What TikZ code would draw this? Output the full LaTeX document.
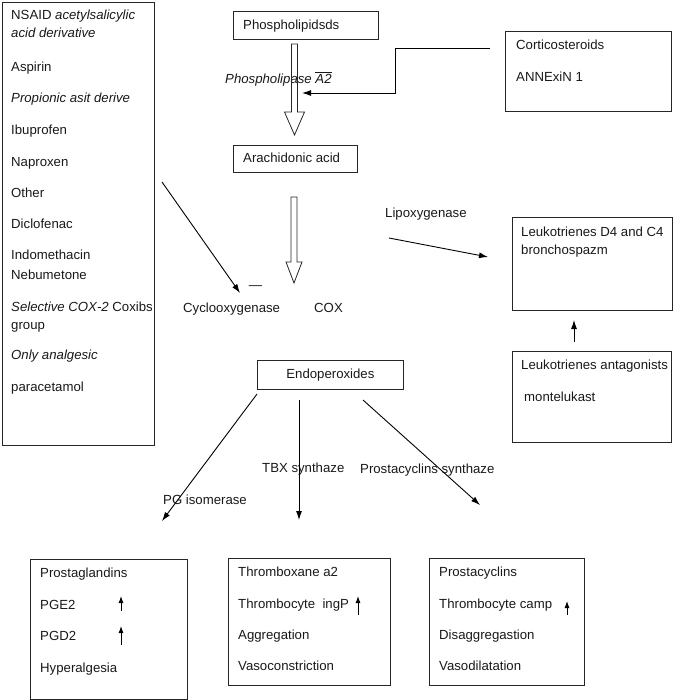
\documentclass[tikz,border=0pt]{standalone}
\usepackage{fontspec}
\setmainfont{Liberation Sans}
\usetikzlibrary{arrows.meta}
\begin{document}
\begin{tikzpicture}[x=1pt,y=-1pt,
  box/.style={draw=black!85, line width=0.8pt, anchor=north west, inner sep=0pt},
  txt/.style={anchor=mid west, inner sep=0pt, yshift=-1.5pt, text=black!90, font=\fontsize{13.2}{15}\selectfont},
  arr/.style={draw=black, line width=0.9pt, -{Latex[length=9pt,width=6pt]}},
  uparr/.style={draw=black, line width=0.9pt, -{Latex[length=7pt,width=5pt]}},
  hollow/.style={draw=black!85, line width=0.8pt}]
\useasboundingbox (0,0) rectangle (673,700);

% ---------- boxes ----------
\node[box, minimum width=152pt, minimum height=443pt] (nsaid) at (2,2) {};
\node[box, minimum width=145pt, minimum height=28pt] (phos) at (233,11) {};
\node[box, minimum width=166pt, minimum height=80pt] (cort) at (505,31) {};
\node[box, minimum width=124pt, minimum height=27pt] (arach) at (233,145) {};
\node[box, minimum width=160pt, minimum height=93pt] (leuk) at (512,217) {};
\node[box, minimum width=159pt, minimum height=91pt] (anta) at (512,351) {};
\node[box, minimum width=146pt, minimum height=29pt, text=black!90, font=\fontsize{13.2}{15}\selectfont] (endo) at (257,360) {Endoperoxides};
\node[box, minimum width=157pt, minimum height=140pt] (pg) at (30,559) {};
\node[box, minimum width=162pt, minimum height=127pt] (tx) at (228,558) {};
\node[box, minimum width=155pt, minimum height=127pt] (pc) at (429,558) {};

% ---------- left box texts ----------
\node[txt] (l1) at (11,15) {NSAID \textit{acetylsalicylic}};
\node[txt] (l2) at (11,33) {\textit{acid derivative}};
\node[txt] (l3) at (11,67) {Aspirin};
\node[txt] (l4) at (11,98) {\textit{Propionic asit derive}};
\node[txt] (l5) at (11,130) {Ibuprofen};
\node[txt] (l6) at (11,162) {Naproxen};
\node[txt] (l7) at (11,193) {Other};
\node[txt] (l8) at (11,224) {Diclofenac};
\node[txt] (l9) at (11,255) {Indomethacin};
\node[txt] (l10) at (11,275) {Nebumetone};
\node[txt] (l11) at (11,307) {\textit{Selective COX-2} Coxibs};
\node[txt] (l12) at (11,325) {group};
\node[txt] (l13) at (11,355) {\textit{Only analgesic}};
\node[txt] (l14) at (11,387) {paracetamol};

% ---------- top texts ----------
\node[txt] (tphos) at (243,25) {Phospholipidsds};
\node[txt] (tarach) at (243,158) {Arachidonic acid};
\node[txt] (tpla) at (225,79) {\textit{Phospholipase} $\overline{\mbox{\textit{A2}}}$};
\node[txt] (tcort1) at (516,45) {Corticosteroids};
\node[txt] (tcort2) at (516,77) {ANNExiN 1};
\node[txt] (tleuk1) at (521,232) {Leukotrienes D4 and C4};
\node[txt] (tleuk2) at (521,250) {bronchospazm};
\node[txt] (tanta1) at (521,365) {Leukotrienes antagonists};
\node[txt] (tanta2) at (524,397) {montelukast};
\node[txt] (tlipo) at (385,213) {Lipoxygenase};
\node[txt] (tcyclo) at (183,308) {Cyclooxygenase};
\node[txt] (tcox) at (314,308) {COX};
\node[txt, anchor=center] (tminus) at (255.5,286) {—};
\node[txt] (ttbx) at (262,468) {TBX synthaze};
\node[txt] (tpcs) at (360,469) {Prostacyclins synthaze};
\node[txt] (tpgi) at (163,500) {PG isomerase};

% ---------- bottom texts ----------
\node[txt] (b11) at (40,573) {Prostaglandins};
\node[txt] (b12) at (40,605) {PGE2};
\node[txt] (b13) at (40,636) {PGD2};
\node[txt] (b14) at (40,668) {Hyperalgesia};
\node[txt] (b21) at (238,572) {Thromboxane a2};
\node[txt] (b22) at (238,604) {Thrombocyte\ \ ingP};
\node[txt] (b23) at (238,635) {Aggregation};
\node[txt] (b24) at (238,666) {Vasoconstriction};
\node[txt] (b31) at (439,572) {Prostacyclins};
\node[txt] (b32) at (439,604) {Thrombocyte camp};
\node[txt] (b33) at (439,635) {Disaggregastion};
\node[txt] (b34) at (439,666) {Vasodilatation};

% ---------- hollow arrows ----------
\draw[hollow] (291.5,44) -- (297.5,44) -- (297.5,112) -- (304.5,112) -- (294.5,135)
  -- (284.5,112) -- (291.5,112) -- cycle;
\draw[hollow] (291,197) -- (297,197) -- (297,262) -- (302,262) -- (294,283)
  -- (286,262) -- (291,262) -- cycle;

% ---------- connectors ----------
\coordinate (c1) at (490,48);
\coordinate (c2) at (395,48);
\coordinate (c3) at (395,93);
\coordinate (c4) at (302,93);
\draw[arr] (c1) -- (c2) -- (c3) -- (c4);

\coordinate (n1) at (162,182);
\coordinate (n2) at (240,293);
\draw[arr] (n1) -- (n2);

\coordinate (lp1) at (389,238);
\coordinate (lp2) at (488,257);
\draw[arr] (lp1) -- (lp2);

\coordinate (la1) at (574,342);
\coordinate (la2) at (574,320);
\draw[arr] (la1) -- (la2);

\coordinate (e1) at (257,394);
\coordinate (e1t) at (162,521);
\coordinate (e2) at (299,400);
\coordinate (e2t) at (299,520);
\coordinate (e3) at (363,400);
\coordinate (e3t) at (480,505);
\draw[arr] (e1) -- (e1t);
\draw[arr] (e2) -- (e2t);
\draw[arr] (e3) -- (e3t);

% ---------- small up arrows ----------
\coordinate (u1a) at (121,611); \coordinate (u1b) at (121,596);
\coordinate (u2a) at (121,645); \coordinate (u2b) at (121,626);
\coordinate (u3a) at (358,615); \coordinate (u3b) at (358,596);
\coordinate (u4a) at (567,615); \coordinate (u4b) at (567,601);
\draw[uparr] (u1a) -- (u1b);
\draw[uparr] (u2a) -- (u2b);
\draw[uparr] (u3a) -- (u3b);
\draw[uparr] (u4a) -- (u4b);
\end{tikzpicture}
\end{document}
